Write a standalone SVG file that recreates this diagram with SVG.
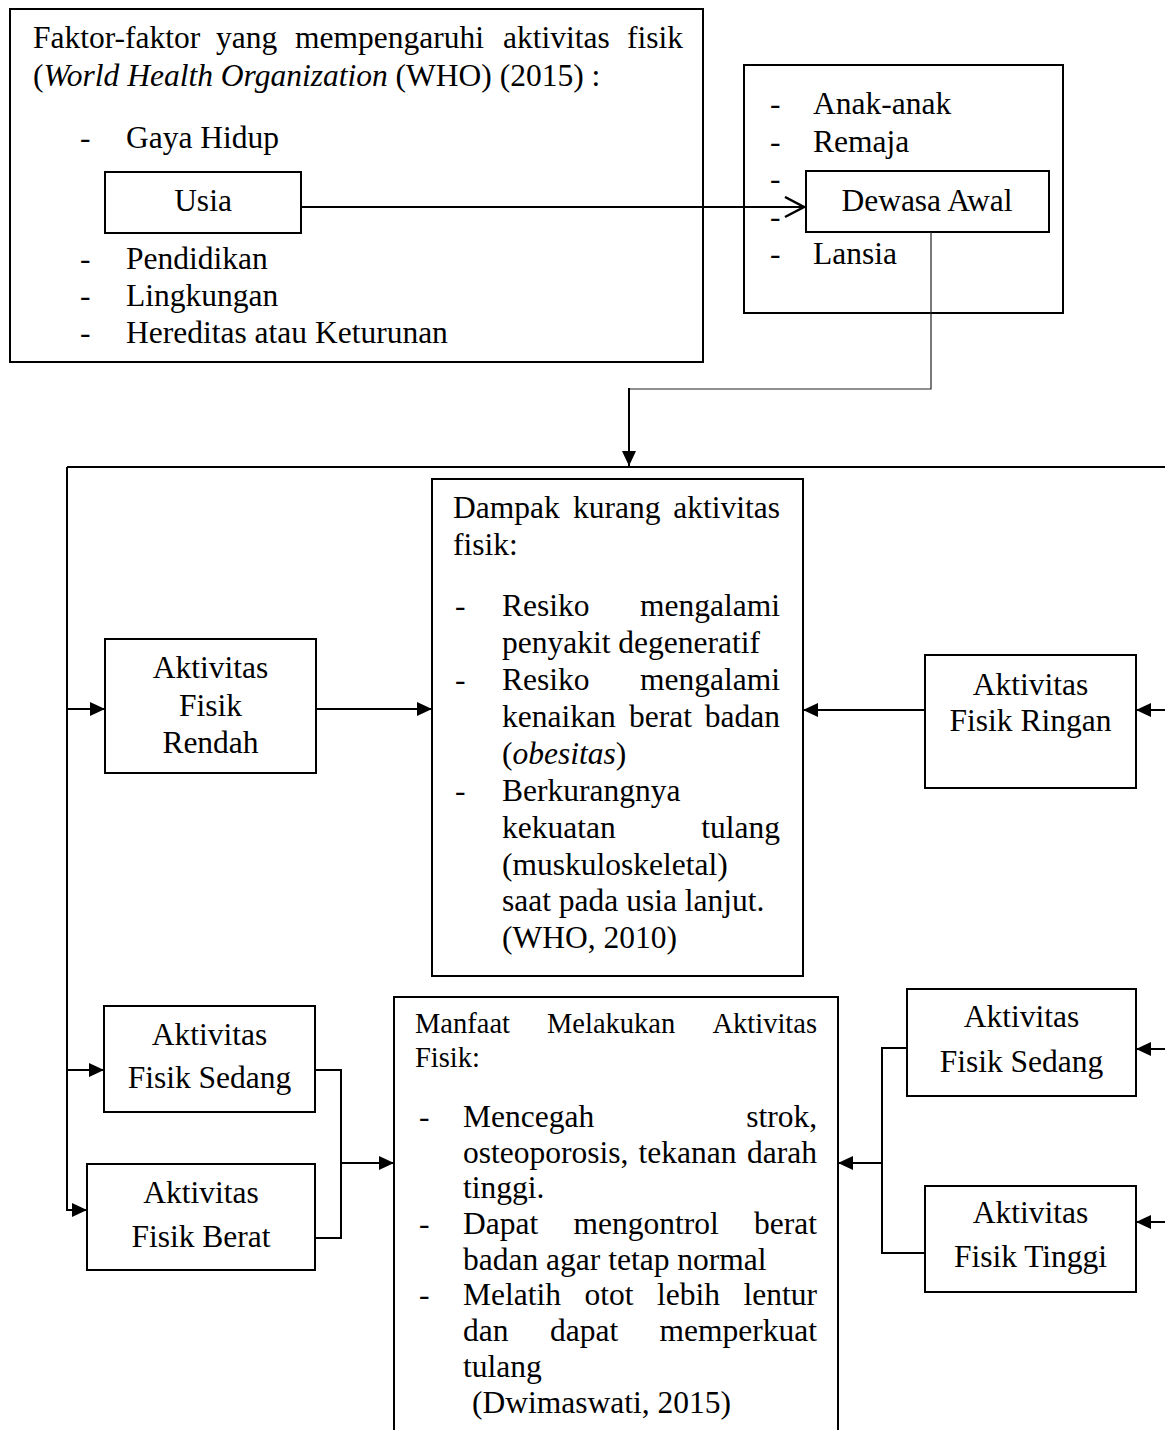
<svg xmlns="http://www.w3.org/2000/svg" width="1165" height="1430" viewBox="0 0 1165 1430">
<style>
  text { font-family: "Liberation Serif", "Times New Roman", serif; font-size: 31.5px; fill: #000; }
  .c { text-anchor: middle; }
  .h { font-size: 28.5px; }
  .box { fill: #fff; stroke: #000; stroke-width: 2; }
  .ln { fill: none; stroke: #000; stroke-width: 2; }
  .thin { fill: none; stroke: #222; stroke-width: 1.2; }
  .arr { marker-end: url(#ah); }
</style>
<defs>
  <marker id="ah" markerUnits="userSpaceOnUse" markerWidth="16" markerHeight="16" refX="15" refY="7" orient="auto">
    <path d="M0,0 L15,7 L0,14 z" fill="#000"/>
  </marker>
  <marker id="vh" markerUnits="userSpaceOnUse" markerWidth="26" markerHeight="26" refX="22" refY="11" orient="auto">
    <path d="M2,1 L21,11 L2,21" fill="none" stroke="#000" stroke-width="2.5"/>
  </marker>
</defs>
<rect width="1165" height="1430" fill="#fff"/>

<g id="faktor">
  <rect class="box" x="10" y="9" width="693" height="353"/>
  <text y="48"><tspan x="33">Faktor-faktor</tspan><tspan x="216">yang</tspan><tspan x="295">mempengaruhi</tspan><tspan x="503">aktivitas</tspan><tspan x="683" text-anchor="end">fisik</tspan></text>
  <text x="33" y="86">(<tspan font-style="italic">World Health Organization</tspan> (WHO) (2015) :</text>
  <text x="80" y="148">-</text><text x="126" y="148">Gaya Hidup</text>
  <text x="80" y="269">-</text><text x="126" y="269">Pendidikan</text>
  <text x="80" y="306">-</text><text x="126" y="306">Lingkungan</text>
  <text x="80" y="343">-</text><text x="126" y="343">Hereditas atau Keturunan</text>
</g>

<g id="usia">
  <rect class="box" x="105" y="172" width="196" height="61"/>
  <text class="c" x="203" y="211">Usia</text>
</g>

<g id="usia-group">
  <rect class="box" x="744" y="65" width="319" height="248"/>
  <text x="770" y="114">-</text><text x="813" y="114">Anak-anak</text>
  <text x="770" y="152">-</text><text x="813" y="152">Remaja</text>
  <text x="770" y="189">-</text>
  <text x="770" y="227">-</text>
  <text x="770" y="264">-</text><text x="813" y="264">Lansia</text>
</g>

<g id="dewasa-awal">
  <rect class="box" x="806" y="171" width="243" height="61"/>
  <text class="c" x="927" y="211">Dewasa Awal</text>
</g>

<g id="dampak">
  <rect class="box" x="432" y="479" width="371" height="497"/>
  <text y="518"><tspan x="453">Dampak</tspan><tspan x="573">kurang</tspan><tspan x="780" text-anchor="end">aktivitas</tspan></text>
  <text x="453" y="555">fisik:</text>
  <text x="455" y="616">-</text>
  <text y="616"><tspan x="502">Resiko</tspan><tspan x="780" text-anchor="end">mengalami</tspan></text>
  <text x="502" y="653">penyakit degeneratif</text>
  <text x="455" y="690">-</text>
  <text y="690"><tspan x="502">Resiko</tspan><tspan x="780" text-anchor="end">mengalami</tspan></text>
  <text y="727"><tspan x="502">kenaikan</tspan><tspan x="629">berat</tspan><tspan x="780" text-anchor="end">badan</tspan></text>
  <text x="502" y="764">(<tspan font-style="italic">obesitas</tspan>)</text>
  <text x="455" y="801">-</text>
  <text x="502" y="801">Berkurangnya</text>
  <text y="838"><tspan x="502">kekuatan</tspan><tspan x="780" text-anchor="end">tulang</tspan></text>
  <text x="502" y="875">(muskuloskeletal)</text>
  <text x="502" y="911">saat pada usia lanjut.</text>
  <text x="502" y="948">(WHO, 2010)</text>
</g>

<g id="fisik-rendah">
  <rect class="box" x="105" y="639" width="211" height="134"/>
  <text class="c" x="210.5" y="678">Aktivitas</text>
  <text class="c" x="210.5" y="716">Fisik</text>
  <text class="c" x="210.5" y="753">Rendah</text>
</g>

<g id="fisik-ringan">
  <rect class="box" x="925" y="655" width="211" height="133"/>
  <text class="c" x="1030.5" y="695">Aktivitas</text>
  <text class="c" x="1030.5" y="731">Fisik Ringan</text>
</g>

<g id="fisik-sedang-kiri">
  <rect class="box" x="104" y="1006" width="211" height="106"/>
  <text class="c" x="209.5" y="1045">Aktivitas</text>
  <text class="c" x="209.5" y="1088">Fisik Sedang</text>
</g>

<g id="fisik-berat">
  <rect class="box" x="87" y="1164" width="228" height="106"/>
  <text class="c" x="201" y="1203">Aktivitas</text>
  <text class="c" x="201" y="1247">Fisik Berat</text>
</g>

<g id="manfaat">
  <rect class="box" x="394" y="997" width="444" height="450"/>
  <text class="h" y="1033"><tspan x="415">Manfaat</tspan><tspan x="547">Melakukan</tspan><tspan x="817" text-anchor="end">Aktivitas</tspan></text>
  <text class="h" x="415" y="1067">Fisik:</text>
  <text x="419" y="1127">-</text>
  <text y="1127"><tspan x="463">Mencegah</tspan><tspan x="817" text-anchor="end">strok,</tspan></text>
  <text y="1163"><tspan x="463">osteoporosis,</tspan><tspan x="638.5">tekanan</tspan><tspan x="817" text-anchor="end">darah</tspan></text>
  <text x="463" y="1198">tinggi.</text>
  <text x="419" y="1234">-</text>
  <text y="1234"><tspan x="463">Dapat</tspan><tspan x="573.5">mengontrol</tspan><tspan x="817" text-anchor="end">berat</tspan></text>
  <text x="463" y="1270">badan agar tetap normal</text>
  <text x="419" y="1305">-</text>
  <text y="1305"><tspan x="463">Melatih</tspan><tspan x="584.5">otot</tspan><tspan x="657">lebih</tspan><tspan x="817" text-anchor="end">lentur</tspan></text>
  <text y="1341"><tspan x="463">dan</tspan><tspan x="550">dapat</tspan><tspan x="817" text-anchor="end">memperkuat</tspan></text>
  <text x="463" y="1377">tulang</text>
  <text x="472" y="1413">(Dwimaswati, 2015)</text>
</g>

<g id="fisik-sedang-kanan">
  <rect class="box" x="907" y="989" width="229" height="107"/>
  <text class="c" x="1021.5" y="1027">Aktivitas</text>
  <text class="c" x="1021.5" y="1072">Fisik Sedang</text>
</g>

<g id="fisik-tinggi">
  <rect class="box" x="925" y="1186" width="211" height="106"/>
  <text class="c" x="1030.5" y="1223">Aktivitas</text>
  <text class="c" x="1030.5" y="1267">Fisik Tinggi</text>
</g>

<g id="connectors">
  <path class="ln" d="M301,207 L805,207" marker-end="url(#vh)"/>
  <path class="thin" d="M931,232 L931,389 L629,389"/>
  <path class="ln arr" d="M629,388 L629,466"/>
  <path class="ln" d="M67,467 L1165,467"/>
  <path class="ln" d="M67,467 L67,1210 L72,1210"/>
  <path class="ln arr" d="M67,709 L105,709"/>
  <path class="ln arr" d="M67,1070 L104,1070"/>
  <path class="ln arr" d="M70,1210 L87,1210"/>
  <path class="ln arr" d="M316,709 L432,709"/>
  <path class="ln arr" d="M925,710 L803,710"/>
  <path class="ln arr" d="M1165,710 L1136,710"/>
  <path class="ln arr" d="M1165,1049 L1136,1049"/>
  <path class="ln arr" d="M1165,1222 L1136,1222"/>
  <path class="ln" d="M315,1070 L341,1070 L341,1238 L315,1238"/>
  <path class="ln arr" d="M341,1163 L394,1163"/>
  <path class="ln" d="M907,1048 L882,1048 L882,1253 L925,1253"/>
  <path class="ln arr" d="M882,1163 L838,1163"/>
</g>
</svg>
